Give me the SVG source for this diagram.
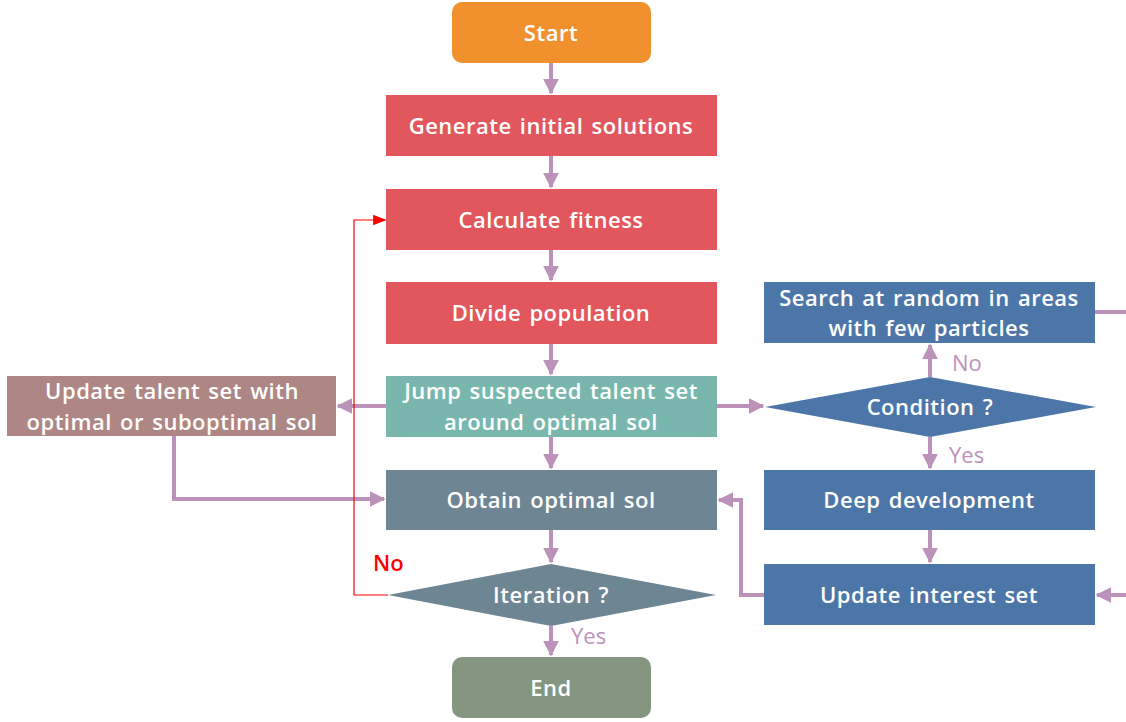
<svg xmlns="http://www.w3.org/2000/svg" width="1126" height="722" viewBox="0 0 1126 722">
  <defs>
    <style>
      .lbl { font-family: "Open Sans", "Noto Sans", "Liberation Sans", sans-serif; font-weight: 600; font-size: 22px; letter-spacing: 0.5px; word-spacing: 2px; fill: #ffffff; text-anchor: middle; dominant-baseline: central; }
      .tag { font-family: "Open Sans", "Noto Sans", "Liberation Sans", sans-serif; font-size: 22px; fill: #BC91BA; dominant-baseline: central; }
      .tag-red { font-family: "Open Sans", "Noto Sans", "Liberation Sans", sans-serif; font-weight: 600; font-size: 22px; fill: #FF0000; dominant-baseline: central; }
      .flow { fill: none; stroke: #BC91BA; stroke-width: 4; }
      .back { fill: none; stroke: #FF0000; stroke-width: 1.2; }
    </style>
    <marker id="ah" viewBox="0 0 10 10" refX="9" refY="5" markerWidth="4" markerHeight="4" markerUnits="strokeWidth" orient="auto">
      <path d="M0,0 L10,5 L0,10 Z" fill="#BC91BA"/>
    </marker>
    <marker id="ahRed" viewBox="0 0 10 10" refX="9" refY="5" markerWidth="11" markerHeight="11" markerUnits="strokeWidth" orient="auto">
      <path d="M0,1 L10,5 L0,9 Z" fill="#FF0000"/>
    </marker>
  </defs>

  <rect width="1126" height="722" fill="#ffffff"/>

  <!-- connectors -->
  <g id="connectors">
    <path class="flow" d="M551,63 V93" marker-end="url(#ah)"/>
    <path class="flow" d="M551,156 V187" marker-end="url(#ah)"/>
    <path class="flow" d="M551,250 V280" marker-end="url(#ah)"/>
    <path class="flow" d="M551,344 V374" marker-end="url(#ah)"/>
    <path class="flow" d="M551,437 V468" marker-end="url(#ah)"/>
    <path class="flow" d="M551,530 V562" marker-end="url(#ah)"/>
    <path class="flow" d="M551,626 V655" marker-end="url(#ah)"/>
    <!-- to talent set update -->
    <path class="flow" d="M386,406 H338" marker-end="url(#ah)"/>
    <!-- talent set back into optimal sol -->
    <path class="flow" d="M174,436 V499 H384" marker-end="url(#ah)"/>
    <!-- to condition -->
    <path class="flow" d="M717,406 H763" marker-end="url(#ah)"/>
    <!-- condition branches -->
    <path class="flow" d="M930,377 V345" marker-end="url(#ah)"/>
    <path class="flow" d="M930,437 V468" marker-end="url(#ah)"/>
    <path class="flow" d="M930,530 V562" marker-end="url(#ah)"/>
    <!-- interest set back to optimal sol -->
    <path class="flow" d="M764,595 H741 V500 H719" marker-end="url(#ah)"/>
    <!-- random search outgoing, and incoming to interest set -->
    <path class="flow" d="M1095,312 H1126"/>
    <path class="flow" d="M1126,595 H1097" marker-end="url(#ah)"/>
    <!-- iteration loop back -->
    <path class="back" d="M388,595 H354 V220 H385" marker-end="url(#ahRed)"/>

    <text class="tag" x="952" y="362">No</text>
    <text class="tag" x="949" y="454">Yes</text>
    <text class="tag" x="571" y="635">Yes</text>
    <text class="tag-red" x="373" y="562">No</text>
  </g>

  <!-- nodes -->
  <g id="start">
    <rect x="452" y="2" width="199" height="61" rx="10" fill="#F0912E"/>
    <text class="lbl" x="551" y="32">Start</text>
  </g>
  <g id="generate">
    <rect x="386" y="95" width="331" height="61" fill="#E2575D"/>
    <text class="lbl" x="551" y="125">Generate initial solutions</text>
  </g>
  <g id="fitness">
    <rect x="386" y="189" width="331" height="61" fill="#E2575D"/>
    <text class="lbl" x="551" y="219">Calculate fitness</text>
  </g>
  <g id="divide">
    <rect x="386" y="282" width="331" height="62" fill="#E2575D"/>
    <text class="lbl" x="551" y="312">Divide population</text>
  </g>
  <g id="jump">
    <rect x="386" y="376" width="331" height="61" fill="#79B7AE"/>
    <text class="lbl" x="551" y="390">Jump suspected talent set</text>
    <text class="lbl" x="551" y="421">around optimal sol</text>
  </g>
  <g id="talent">
    <rect x="7" y="376" width="329" height="60" fill="#AE8683"/>
    <text class="lbl" x="172" y="390">Update talent set with</text>
    <text class="lbl" x="172" y="421">optimal or suboptimal sol</text>
  </g>
  <g id="optimal">
    <rect x="386" y="470" width="331" height="60" fill="#6E8593"/>
    <text class="lbl" x="551" y="499">Obtain optimal sol</text>
  </g>
  <g id="iteration">
    <polygon points="388,595 551,564 716,595 551,626" fill="#6E8593"/>
    <text class="lbl" x="551" y="594">Iteration ?</text>
  </g>
  <g id="end">
    <rect x="452" y="657" width="199" height="61" rx="10" fill="#849680"/>
    <text class="lbl" x="551" y="687">End</text>
  </g>
  <g id="search">
    <rect x="764" y="282" width="331" height="61" fill="#4D76A8"/>
    <text class="lbl" x="929" y="297">Search at random in areas</text>
    <text class="lbl" x="929" y="327">with few particles</text>
  </g>
  <g id="condition">
    <polygon points="765,407 930,377 1096,407 930,437" fill="#4D76A8"/>
    <text class="lbl" x="930" y="406">Condition ?</text>
  </g>
  <g id="deep">
    <rect x="764" y="470" width="331" height="60" fill="#4D76A8"/>
    <text class="lbl" x="929" y="499">Deep development</text>
  </g>
  <g id="interest">
    <rect x="764" y="564" width="331" height="61" fill="#4D76A8"/>
    <text class="lbl" x="929" y="594">Update interest set</text>
  </g>
</svg>
